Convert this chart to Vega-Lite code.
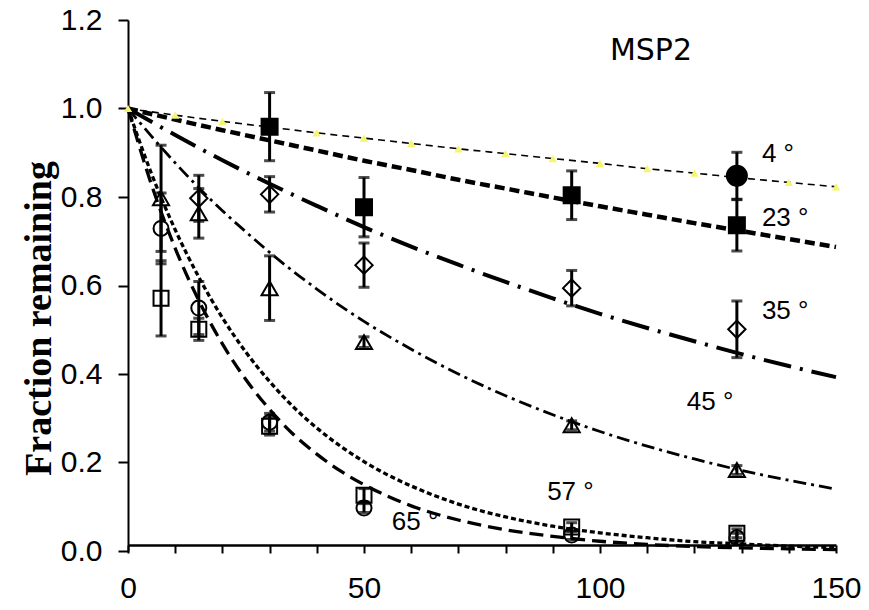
{
  "$schema": "https://vega.github.io/schema/vega-lite/v6.json",
  "width": 708,
  "height": 531,
  "autosize": "none",
  "padding": {"left": 128, "top": 20, "right": 33, "bottom": 59},
  "background": "white",
  "config": {"view": {"stroke": null}},
  "datasets": {
    "fits": [
      {"s":"4","x":0,"y":1.0},{"s":"4","x":10,"y":0.985},{"s":"4","x":20,"y":0.971},{"s":"4","x":30,"y":0.958},{"s":"4","x":40,"y":0.945},{"s":"4","x":50,"y":0.933},{"s":"4","x":60,"y":0.921},{"s":"4","x":70,"y":0.909},{"s":"4","x":80,"y":0.898},{"s":"4","x":90,"y":0.887},{"s":"4","x":100,"y":0.876},{"s":"4","x":110,"y":0.864},{"s":"4","x":120,"y":0.854},{"s":"4","x":130,"y":0.843},{"s":"4","x":140,"y":0.833},{"s":"4","x":150,"y":0.823},
      {"s":"23","x":0,"y":1.0},{"s":"23","x":10,"y":0.975},{"s":"23","x":20,"y":0.951},{"s":"23","x":30,"y":0.928},{"s":"23","x":40,"y":0.905},{"s":"23","x":50,"y":0.882},{"s":"23","x":60,"y":0.861},{"s":"23","x":70,"y":0.839},{"s":"23","x":80,"y":0.819},{"s":"23","x":90,"y":0.799},{"s":"23","x":100,"y":0.779},{"s":"23","x":110,"y":0.76},{"s":"23","x":120,"y":0.741},{"s":"23","x":130,"y":0.723},{"s":"23","x":140,"y":0.705},{"s":"23","x":150,"y":0.687},
      {"s":"35","x":0,"y":1.0},{"s":"35","x":10,"y":0.94},{"s":"35","x":20,"y":0.883},{"s":"35","x":30,"y":0.83},{"s":"35","x":40,"y":0.78},{"s":"35","x":50,"y":0.732},{"s":"35","x":60,"y":0.688},{"s":"35","x":70,"y":0.647},{"s":"35","x":80,"y":0.608},{"s":"35","x":90,"y":0.571},{"s":"35","x":100,"y":0.536},{"s":"35","x":110,"y":0.504},{"s":"35","x":120,"y":0.474},{"s":"35","x":130,"y":0.445},{"s":"35","x":140,"y":0.418},{"s":"35","x":150,"y":0.393},
      {"s":"45","x":0,"y":1.0},{"s":"45","x":5,"y":0.937},{"s":"45","x":10,"y":0.877},{"s":"45","x":15,"y":0.821},{"s":"45","x":20,"y":0.769},{"s":"45","x":25,"y":0.721},{"s":"45","x":30,"y":0.675},{"s":"45","x":35,"y":0.632},{"s":"45","x":40,"y":0.592},{"s":"45","x":45,"y":0.554},{"s":"45","x":50,"y":0.519},{"s":"45","x":60,"y":0.456},{"s":"45","x":70,"y":0.4},{"s":"45","x":80,"y":0.351},{"s":"45","x":90,"y":0.308},{"s":"45","x":100,"y":0.27},{"s":"45","x":110,"y":0.237},{"s":"45","x":120,"y":0.208},{"s":"45","x":130,"y":0.182},{"s":"45","x":140,"y":0.16},{"s":"45","x":150,"y":0.14},
      {"s":"57","x":0,"y":1.0},{"s":"57","x":5,"y":0.852},{"s":"57","x":10,"y":0.726},{"s":"57","x":15,"y":0.619},{"s":"57","x":20,"y":0.527},{"s":"57","x":25,"y":0.449},{"s":"57","x":30,"y":0.383},{"s":"57","x":35,"y":0.326},{"s":"57","x":40,"y":0.278},{"s":"57","x":45,"y":0.237},{"s":"57","x":50,"y":0.202},{"s":"57","x":55,"y":0.172},{"s":"57","x":60,"y":0.147},{"s":"57","x":70,"y":0.106},{"s":"57","x":80,"y":0.077},{"s":"57","x":90,"y":0.056},{"s":"57","x":100,"y":0.041},{"s":"57","x":110,"y":0.03},{"s":"57","x":120,"y":0.021},{"s":"57","x":130,"y":0.016},{"s":"57","x":140,"y":0.011},{"s":"57","x":150,"y":0.008},
      {"s":"65","x":0,"y":1.0},{"s":"65","x":5,"y":0.827},{"s":"65","x":10,"y":0.684},{"s":"65","x":15,"y":0.566},{"s":"65","x":20,"y":0.468},{"s":"65","x":25,"y":0.387},{"s":"65","x":30,"y":0.32},{"s":"65","x":35,"y":0.264},{"s":"65","x":40,"y":0.219},{"s":"65","x":45,"y":0.181},{"s":"65","x":50,"y":0.15},{"s":"65","x":55,"y":0.124},{"s":"65","x":60,"y":0.102},{"s":"65","x":70,"y":0.07},{"s":"65","x":80,"y":0.048},{"s":"65","x":90,"y":0.033},{"s":"65","x":100,"y":0.022},{"s":"65","x":110,"y":0.015},{"s":"65","x":120,"y":0.01},{"s":"65","x":130,"y":0.007},{"s":"65","x":140,"y":0.005},{"s":"65","x":150,"y":0.003}
    ],
    "obs": [
      {"s":"4","x":129,"y":0.848,"e":0.053},
      {"s":"23","x":30,"y":0.959,"e":0.077},{"s":"23","x":50,"y":0.777,"e":0.067},{"s":"23","x":94,"y":0.804,"e":0.055},{"s":"23","x":129,"y":0.736,"e":0.058},
      {"s":"35","x":15,"y":0.797,"e":0.052},{"s":"35","x":30,"y":0.806,"e":0.04},{"s":"35","x":50,"y":0.646,"e":0.05},{"s":"35","x":94,"y":0.594,"e":0.04},{"s":"35","x":129,"y":0.501,"e":0.064},
      {"s":"45","x":7,"y":0.797,"e":0.12},{"s":"45","x":15,"y":0.763,"e":0.056},{"s":"45","x":30,"y":0.594,"e":0.073},{"s":"45","x":50,"y":0.472,"e":0.012},{"s":"45","x":94,"y":0.284,"e":0.01},{"s":"45","x":129,"y":0.183,"e":0.01},
      {"s":"57","x":7,"y":0.571,"e":0.085},{"s":"57","x":15,"y":0.501,"e":0.025},{"s":"57","x":30,"y":0.282,"e":0.02},{"s":"57","x":50,"y":0.126,"e":0.015},{"s":"57","x":94,"y":0.054,"e":0.01},{"s":"57","x":129,"y":0.04,"e":0.01},
      {"s":"65","x":7,"y":0.729,"e":0.08},{"s":"65","x":15,"y":0.549,"e":0.06},{"s":"65","x":30,"y":0.291,"e":0.02},{"s":"65","x":50,"y":0.097,"e":0.01},{"s":"65","x":94,"y":0.036,"e":0.01},{"s":"65","x":129,"y":0.03,"e":0.01}
    ],
    "labels": [
      {"t":"4 °","x":134.3,"y":0.898},
      {"t":"23 °","x":134.3,"y":0.752},
      {"t":"35 °","x":134.3,"y":0.542},
      {"t":"45 °","x":118.4,"y":0.336},
      {"t":"57 °","x":88.8,"y":0.133},
      {"t":"65 °","x":55.9,"y":0.065}
    ]
  },
  "encoding": {
    "x": {
      "field": "x", "type": "quantitative",
      "scale": {"domain": [0, 150], "nice": false, "zero": false},
      "axis": {
        "title": null, "grid": false, "offset": -6,
        "values": [0,10,20,30,40,50,60,70,80,90,100,110,120,130,140,150],
        "labelExpr": "datum.value % 50 === 0 ? datum.label : ''",
        "domainColor": "black", "domainWidth": 2.5,
        "tickColor": "black", "tickWidth": 2, "tickSize": 8,
        "labelFont": "Liberation Sans", "labelFontSize": 30, "labelColor": "black",
        "labelPadding": 20, "labelFlush": false, "labelOverlap": false
      }
    },
    "y": {
      "field": "y", "type": "quantitative",
      "scale": {"domain": [0, 1.2], "nice": false},
      "axis": {
        "title": "Fraction remaining", "grid": false,
        "values": [0,0.2,0.4,0.6,0.8,1.0,1.2], "format": ".1f",
        "domainColor": "black", "domainWidth": 2,
        "tickColor": "black", "tickWidth": 2, "tickSize": 10,
        "labelFont": "Liberation Sans", "labelFontSize": 30, "labelColor": "black",
        "labelPadding": 16, "labelFlush": false, "labelOverlap": false,
        "titleFont": "Liberation Serif", "titleFontSize": 38, "titleFontWeight": "bold",
        "titleColor": "black", "titleAngle": -90, "titleX": -78, "titleY": 298,
        "titleAlign": "center", "titleBaseline": "alphabetic"
      }
    }
  },
  "layer": [
    {
      "data": {"name": "fits"},
      "mark": {"type": "line", "color": "black", "interpolate": "monotone"},
      "encoding": {
        "detail": {"field": "s", "type": "nominal"},
        "strokeDash": {
          "field": "s", "type": "nominal",
          "scale": {"domain": ["4","23","35","45","57","65"], "range": [[7,5],[10,5],[28,9,3,9],[13,5,3,5],[5,3],[14,7]]},
          "legend": null
        },
        "strokeWidth": {
          "field": "s", "type": "nominal",
          "scale": {"type": "ordinal", "domain": ["4","23","35","45","57","65"], "range": [1.6,4.5,4,2.8,3.3,3.3]},
          "legend": null
        }
      }
    },
    {
      "data": {"name": "fits"},
      "transform": [{"filter": "datum.s == '4'"}],
      "mark": {"type": "point", "shape": "triangle-up", "filled": true, "color": "#f5f570", "opacity": 1, "size": 70}
    },
    {
      "data": {"name": "obs"},
      "mark": {"type": "errorbar", "color": "black", "ticks": {"size": 11, "thickness": 3, "color": "black"}, "rule": {"strokeWidth": 3, "color": "black"}},
      "encoding": {
        "yError": {"field": "e"}
      }
    },
    {
      "data": {"name": "obs"},
      "mark": {"type": "point", "stroke": "black", "strokeWidth": 2, "opacity": 1},
      "encoding": {
        "shape": {
          "field": "s", "type": "nominal",
          "scale": {"domain": ["4","23","35","45","57","65"], "range": ["circle","square","diamond","triangle-up","square","circle"]},
          "legend": null
        },
        "fill": {
          "field": "s", "type": "nominal",
          "scale": {"domain": ["4","23","35","45","57","65"], "range": ["black","black","transparent","transparent","transparent","transparent"]},
          "legend": null
        },
        "size": {
          "field": "s", "type": "nominal",
          "scale": {"type": "ordinal", "domain": ["4","23","35","45","57","65"], "range": [400,256,300,260,225,225]},
          "legend": null
        }
      }
    },
    {
      "data": {"name": "labels"},
      "mark": {"type": "text", "align": "left", "baseline": "middle", "font": "Liberation Sans", "fontSize": 26, "color": "black"},
      "encoding": {"text": {"field": "t", "type": "nominal"}}
    },
    {
      "data": {"values": [{"t": "MSP2", "x": 110.8, "y": 1.129}]},
      "mark": {"type": "text", "align": "center", "baseline": "middle", "font": "DejaVu Sans", "fontSize": 30, "color": "black"},
      "encoding": {"text": {"field": "t", "type": "nominal"}}
    }
  ]
}
